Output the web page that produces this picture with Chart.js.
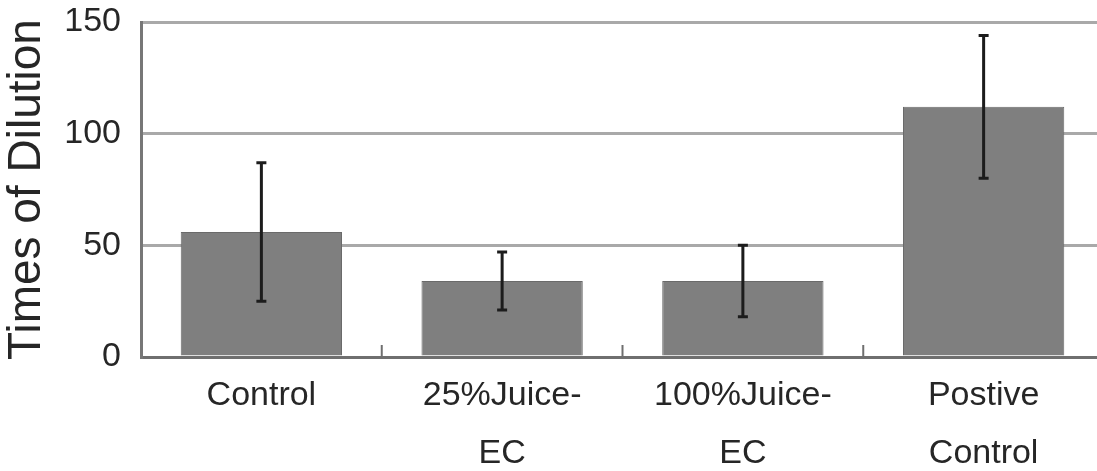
<!DOCTYPE html>
<html>
<head>
<meta charset="utf-8">
<script src="https://cdn.jsdelivr.net/npm/chart.js@4/dist/chart.umd.min.js"></script>
<style>
  html, body { margin: 0; padding: 0; background: #fff; overflow: hidden; }
  #wrap { width: 1104px; height: 471px; position: relative; }
</style>
</head>
<body>
<div id="wrap"><canvas id="c"></canvas></div>
<script>
// Groups along the x axis (multi-line labels)
const categories = [
  ['Control'],
  ['25%Juice-', 'EC'],
  ['100%Juice-', 'EC'],
  ['Postive', 'Control']
];
// Mean dilution for each group
const meanValues = [56, 34, 34, 112];
// Error (± half-range) for each group
const errorValues = [31, 13, 16, 32];
// Y axis tick values
const yTickValues = [0, 50, 100, 150];

const FONT = '"Liberation Sans", Arial, Helvetica, sans-serif';
const TEXT = '#262626';

// Error bars with caps, positioned through the chart's own scales
const errorBarPlugin = {
  id: 'errorBars',
  afterDatasetsDraw(chart) {
    const ctx = chart.ctx;
    const y = chart.scales.y;
    const meta = chart.getDatasetMeta(0);
    ctx.save();
    ctx.strokeStyle = '#1c1c1c';
    ctx.lineWidth = 3;
    ctx.lineCap = 'butt';
    meta.data.forEach((bar, i) => {
      const top = y.getPixelForValue(meanValues[i] + errorValues[i]);
      const bot = y.getPixelForValue(meanValues[i] - errorValues[i]);
      const cap = 5;
      ctx.beginPath();
      ctx.moveTo(bar.x, top);
      ctx.lineTo(bar.x, bot);
      ctx.moveTo(bar.x - cap, top);
      ctx.lineTo(bar.x + cap, top);
      ctx.moveTo(bar.x - cap, bot);
      ctx.lineTo(bar.x + cap, bot);
      ctx.stroke();
    });
    ctx.restore();
  }
};

// Short inward tick marks between the groups on the x axis
const innerTicksPlugin = {
  id: 'innerTicks',
  afterDraw(chart) {
    const ctx = chart.ctx;
    const x = chart.scales.x;
    const bottom = chart.chartArea.bottom;
    ctx.save();
    ctx.strokeStyle = '#6f6f6f';
    ctx.lineWidth = 2;
    for (let i = 0; i < categories.length - 1; i++) {
      const px = (x.getPixelForValue(i) + x.getPixelForValue(i + 1)) / 2;
      ctx.beginPath();
      ctx.moveTo(px, bottom - 12);
      ctx.lineTo(px, bottom);
      ctx.stroke();
    }
    ctx.restore();
  }
};

new Chart(document.getElementById('c'), {
  type: 'bar',
  data: {
    labels: categories,
    datasets: [{
      data: meanValues,
      backgroundColor: '#7f7f7f',
      borderColor: '#6a6a6a',
      borderWidth: 1,
      categoryPercentage: 1,
      barPercentage: 0.67
    }]
  },
  options: {
    responsive: true,
    maintainAspectRatio: false,
    animation: false,
    layout: { padding: { top: 22, right: 0, bottom: 0, left: 0 } },
    plugins: {
      legend: { display: false },
      tooltip: { enabled: false }
    },
    scales: {
      x: {
        offset: true,
        grid: { display: false, drawTicks: false },
        border: { display: true, color: '#6f6f6f', width: 3 },
        ticks: {
          color: TEXT,
          padding: 9,
          maxRotation: 0,
          autoSkip: false,
          font: { family: FONT, size: 34, lineHeight: 1.72 }
        },
        afterFit(scale) {
          scale.height = 114;
          scale.paddingLeft = 0;
          scale.paddingRight = 0;
        }
      },
      y: {
        min: 0,
        max: 150,
        afterBuildTicks(scale) { scale.ticks = yTickValues.map(v => ({ value: v })); },
        grid: { color: '#a9a9a9', lineWidth: 3, drawTicks: false },
        border: { display: true, color: '#777777', width: 3 },
        ticks: {
          color: TEXT,
          padding: 20,
          font: { family: FONT, size: 34 }
        },
        title: {
          display: true,
          text: 'Times of Dilution',
          color: TEXT,
          padding: { top: 0, bottom: 0 },
          font: { family: FONT, size: 46 }
        },
        afterFit(scale) {
          scale.width = 141;
          scale.paddingTop = 0;
          scale.paddingBottom = 0;
        }
      }
    }
  },
  plugins: [errorBarPlugin, innerTicksPlugin]
});
</script>
</body>
</html>
